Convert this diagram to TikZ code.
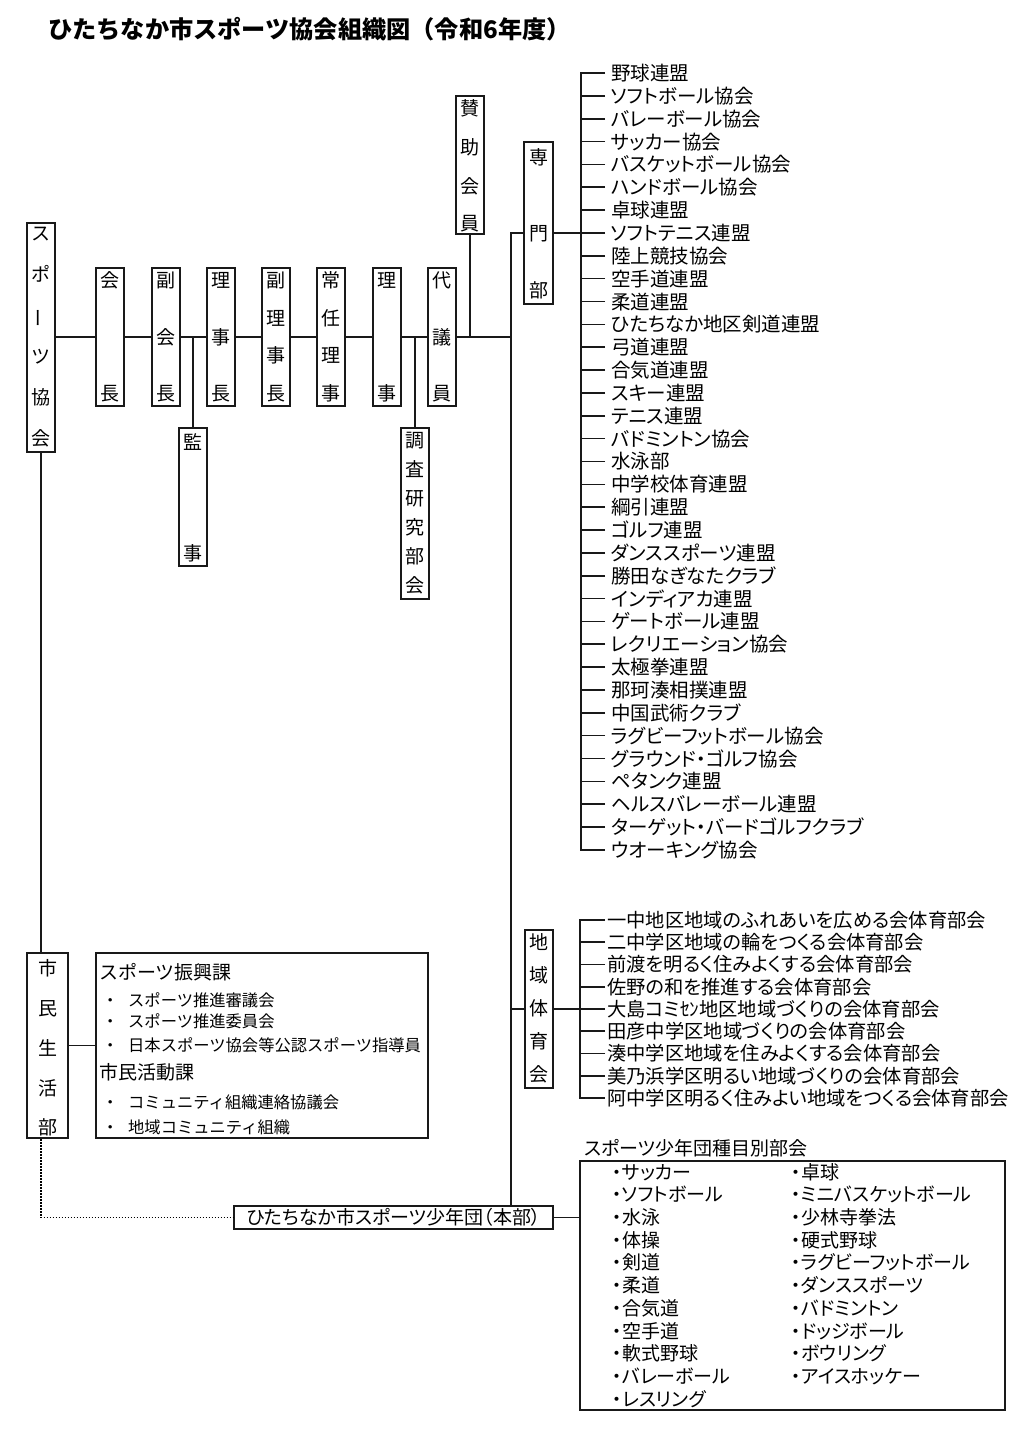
\documentclass[tikz,border=0pt]{standalone}
\usepackage{fontspec}
\usepackage{graphicx}
\setmainfont{Noto Sans CJK JP}
\newfontfamily\jp[RawFeature={+palt}]{Noto Sans CJK JP}
\newfontfamily\jpm{Noto Sans CJK JP}
\usetikzlibrary{calc}
\tikzset{
  ln/.style={line width=1.6pt, draw=black!90},
  bx/.style={draw=black!90, line width=2pt, fill=white, inner sep=0pt, minimum width=28pt},
  vch/.style={inner sep=0pt, font=\fontsize{19}{19}\selectfont\jpm, text height=16.1pt, text depth=1.9pt},
  listitem/.style={anchor=west, inner sep=0pt, font=\fontsize{19.5}{20}\selectfont\jp, text height=16.5pt, text depth=1.5pt},
  chitem/.style={anchor=west, inner sep=0pt, font=\fontsize{19.3}{20}\selectfont\jp, text height=16.3pt, text depth=1.5pt},
  smallitem/.style={anchor=west, inner sep=0pt, font=\fontsize{16.3}{17}\selectfont\jpm, text height=13.8pt, text depth=1.3pt},
  headitem/.style={anchor=west, inner sep=0pt, font=\fontsize{19}{20}\selectfont\jpm, text height=16.1pt, text depth=1.9pt},
  spitem/.style={anchor=west, inner sep=0pt, font=\fontsize{19}{20}\selectfont\jp, text height=16.1pt, text depth=1.9pt},
}
\newcommand\vchars[3]{\foreach \yy/\cc [count=\ii] in {#3} {\node[vch] (#1-\ii) at (#2,\yy) {\cc};}}
\newcommand\vbar{\rotatebox[origin=c]{90}{ー}}
\newcommand\bul{\makebox[10pt][c]{・}}
\begin{document}
\begin{tikzpicture}[x=1pt,y=-1pt]
\useasboundingbox (0,0) rectangle (1024,1446);
\fill[white] (0,0) rectangle (1024,1446);

% title
\node[anchor=west, inner sep=0pt, font=\fontsize{24.2}{25}\selectfont\jpm\bfseries] (title) at (48,29) {ひたちなか市スポーツ協会組織図（令和6年度）};

% vertical boxes
\node[bx, minimum height=229pt] (kyokai) at (41,337) {};
\vchars{kyokai}{41}{233/ス,274/ポ,315/\vbar,356/ツ,397/協,438/会}
\node[bx, minimum height=138pt] (kaicho) at (110,337) {};
\vchars{kaicho}{110}{280/会,393/長}
\node[bx, minimum height=138pt] (fuku) at (165.5,337) {};
\vchars{fuku}{165.5}{280/副,337/会,393/長}
\node[bx, minimum height=138pt] (rijicho) at (221,337) {};
\vchars{rijicho}{221}{280/理,337/事,393/長}
\node[bx, minimum height=138pt] (fukuriji) at (276,337) {};
\vchars{fukuriji}{276}{280/副,318/理,355/事,393/長}
\node[bx, minimum height=138pt] (jonin) at (331,337) {};
\vchars{jonin}{331}{280/常,318/任,355/理,393/事}
\node[bx, minimum height=138pt] (riji) at (386.5,337) {};
\vchars{riji}{386.5}{280/理,393/事}
\node[bx, minimum height=138pt] (daigi) at (442,337) {};
\vchars{daigi}{442}{280/代,337/議,393/員}
\node[bx, minimum height=138pt] (kansa) at (193,497) {};
\vchars{kansa}{193}{442/監,553/事}
\node[bx, minimum height=171pt] (chosa) at (415,513.5) {};
\vchars{chosa}{415}{440/調,469/査,498/研,527/究,556/部,585/会}
\node[bx, minimum height=138pt] (sanjo) at (470,165) {};
\vchars{sanjo}{470}{108/賛,147/助,186/会,223/員}
\node[bx, minimum height=162pt, minimum width=29pt] (senmon) at (538.5,223) {};
\vchars{senmon}{538.5}{157/専,233/門,290/部}
\node[bx, minimum height=158pt] (chiiki) at (539,1009) {};
\vchars{chiiki}{539}{942/地,975/域,1008/体,1041/育,1074/会}
\node[bx, minimum height=185pt, minimum width=41pt] (shimin) at (47.5,1045.5) {};
\vchars{shimin}{47.5}{968/市,1008/民,1048/生,1088/活,1127/部}

% main chain
\draw[ln] (kyokai) -- (kaicho);
\draw[ln] (kaicho) -- (fuku);
\draw[ln] (fuku) -- (rijicho);
\draw[ln] (rijicho) -- (fukuriji);
\draw[ln] (fukuriji) -- (jonin);
\draw[ln] (jonin) -- (riji);
\draw[ln] (riji) -- (daigi);
\coordinate (ttop) at (511,233);
\draw[ln] (daigi) -- (daigi -| ttop);
\draw[ln] (sanjo) -- (sanjo |- daigi);
\draw[ln] (kansa) -- (kansa |- kaicho);
\draw[ln] (chosa) -- (chosa |- kaicho);

% senmon list
\foreach \t [count=\i] in {野球連盟,ソフトボール協会,バレーボール協会,サッカー協会,バスケットボール協会,ハンドボール協会,卓球連盟,ソフトテニス連盟,陸上競技協会,空手道連盟,柔道連盟,ひたちなか地区剣道連盟,弓道連盟,合気道連盟,スキー連盟,テニス連盟,バドミントン協会,水泳部,中学校体育連盟,綱引連盟,ゴルフ連盟,ダンススポーツ連盟,勝田なぎなたクラブ,インディアカ連盟,ゲートボール連盟,レクリエーション協会,太極拳連盟,那珂湊相撲連盟,中国武術クラブ,ラグビーフットボール協会,グラウンド・ゴルフ協会,ペタンク連盟,ヘルスバレーボール連盟,ターゲット・バードゴルフクラブ,ウオーキング協会}
  {\node[listitem] (s\i) at (611,{73+(\i-1)*22.85}) {\t};}
\coordinate (sv) at (581,73);
\draw[ln] ([xshift=-6pt]s1.west) -- (s1.west -| sv) -- (s35.west -| sv) -- ([xshift=-6pt]s35.west);
\foreach \i in {2,...,34} {\draw[ln] ([xshift=-6pt]s\i.west) -- (s\i.west -| sv);}

% trunk
\node[bx, minimum width=319pt, minimum height=23pt, font=\fontsize{19}{20}\selectfont\jp] (shonen) at (393.5,1217.5) {ひたちなか市スポーツ少年団（本部）};
\draw[ln] (senmon.west |- ttop) -- (ttop) -- (ttop |- shonen.north);
\draw[ln] (senmon.east |- ttop) -- (s8.west -| sv);

% chiiki list
\foreach \t [count=\i] in {一中地区地域のふれあいを広める会体育部会,二中学区地域の輪をつくる会体育部会,前渡を明るく住みよくする会体育部会,佐野の和を推進する会体育部会,大島コミｾﾝ地区地域づくりの会体育部会,田彦中学区地域づくりの会体育部会,湊中学区地域を住みよくする会体育部会,美乃浜学区明るい地域づくりの会体育部会,阿中学区明るく住みよい地域をつくる会体育部会}
  {\node[chitem] (c\i) at (607,{920+(\i-1)*22.25}) {\t};}
\coordinate (cv) at (580,920);
\draw[ln] ([xshift=-2pt]c1.west) -- (c1.west -| cv) -- (c9.west -| cv) -- ([xshift=-2pt]c9.west);
\foreach \i in {2,...,8} {\draw[ln] ([xshift=-2pt]c\i.west) -- (c\i.west -| cv);}
\draw[ln] (chiiki) -- (chiiki -| ttop);
\draw[ln] (chiiki) -- (chiiki -| cv);

% shimin
\draw[ln] (kyokai) -- (kyokai |- shimin.north);
\node[bx, minimum width=332pt, minimum height=185pt] (shiminbox) at (262,1045.5) {};
\draw[ln] (shimin) -- (shiminbox);
\node[headitem] (h1) at (99,972) {スポーツ振興課};
\node[smallitem] (b1) at (102,1000) {\makebox[26pt][l]{・}スポーツ推進審議会};
\node[smallitem] (b2) at (102,1021) {\makebox[26pt][l]{・}スポーツ推進委員会};
\node[smallitem] (b3) at (102,1045) {\makebox[26pt][l]{・}日本スポーツ協会等公認スポーツ指導員};
\node[headitem] (h2) at (99,1072) {市民活動課};
\node[smallitem] (b4) at (102,1102) {\makebox[26pt][l]{・}コミュニティ組織連絡協議会};
\node[smallitem] (b5) at (102,1127) {\makebox[26pt][l]{・}地域コミュニティ組織};
\draw[line width=1.7pt, draw=black, dash pattern=on 1.5pt off 1.5pt] (shimin.south -| kyokai) -- (kyokai |- shonen) -- (shonen);

% shumoku
\node[bx, minimum width=425pt, minimum height=249pt] (shumoku) at (792.5,1285.5) {};
\node[spitem] (shtitle) at (584,1148) {スポーツ少年団種目別部会};
\draw[ln] (shonen) -- (shonen -| shumoku.west);
\foreach \t [count=\i] in {サッカー,ソフトボール,水泳,体操,剣道,柔道,合気道,空手道,軟式野球,バレーボール,レスリング}
  {\node[spitem] (k\i) at (612,{1172+(\i-1)*22.7}) {\bul\t};}
\foreach \t [count=\i] in {卓球,ミニバスケットボール,少林寺拳法,硬式野球,ラグビーフットボール,ダンススポーツ,バドミントン,ドッジボール,ボウリング,アイスホッケー}
  {\node[spitem] (r\i) at (791,{1172+(\i-1)*22.7}) {\bul\t};}
\end{tikzpicture}
\end{document}
